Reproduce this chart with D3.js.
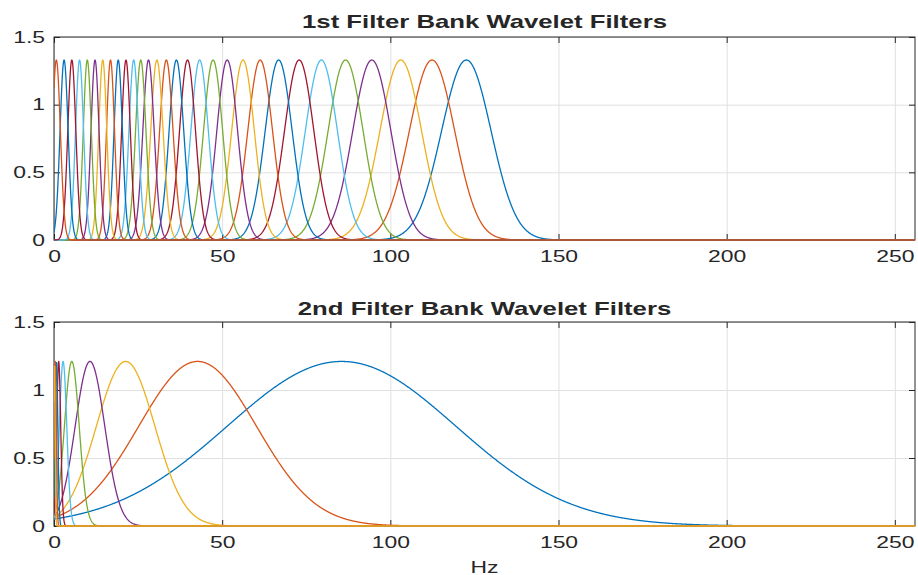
<!DOCTYPE html>
<html>
<head>
<meta charset="utf-8">
<script src="https://cdn.jsdelivr.net/npm/d3@7"></script>
<style>
  html, body { margin: 0; padding: 0; background: #ffffff; }
  svg { display: block; }
  text { font-family: "Liberation Sans", Arial, Helvetica, sans-serif; fill: #262626; }
</style>
</head>
<body>
<svg id="chart" width="918" height="575"></svg>
<script>
// ---------------- data ----------------
const titles = ["1st Filter Bank Wavelet Filters", "2nd Filter Bank Wavelet Filters"];
const xLabel = "Hz";
const xTicks = [0, 50, 100, 150, 200, 250];
const yTicks = [0, 0.5, 1, 1.5];
const xMax = 256;
const yMax = 1.5;

// 1st filter bank: centre frequency (Hz) and Gaussian width (Hz) of each filter
const bank1Centers = [122.6, 112.4, 103.1, 94.5, 86.7, 79.5, 72.9, 66.8, 61.3, 56.2,
                      51.5, 47.3, 43.3, 39.7, 36.4, 33.4, 30.6, 28.1, 25.8, 23.7,
                      21.4, 19.1, 16.8, 14.5, 12.2, 9.9, 7.6, 5.3, 3.0, 0.7];
const bank1Widths  = [7.36, 6.74, 6.19, 5.67, 5.20, 4.77, 4.37, 4.01, 3.68, 3.37,
                      3.09, 2.84, 2.60, 2.38, 2.18, 2.00, 1.84, 1.69, 1.55, 1.42,
                      1.30, 1.25, 1.20, 1.20, 1.20, 1.20, 1.20, 1.20, 1.20, 1.20];
const bank1Peak = 1.33;

// 2nd filter bank
const bank2Centers = [85.5, 42.7, 21.3, 10.7, 5.3, 2.7, 1.4, 0.75, 0.4, 0.15];
const bank2Widths  = [34.0, 17.5, 8.7, 4.4, 2.2, 1.1, 0.6, 0.4, 0.3, 0.2];
const bank2Peak = 1.21;

const colors = ["#0072BD", "#D95319", "#EDB120", "#7E2F8E", "#77AC30", "#4DBEEE", "#A2142F"];

// ---------------- layout ----------------
const svg = d3.select("#chart");
const left = 54, right = 915;
const panels = [
  { top: 37,  bottom: 240, centers: bank1Centers, widths: bank1Widths, peak: bank1Peak, title: titles[0], titleY: 28 },
  { top: 322, bottom: 526, centers: bank2Centers, widths: bank2Widths, peak: bank2Peak, title: titles[1], titleY: 315 }
];
const SX = 1.43;          // horizontal stretch of the original's text
const tickFont = 16, titleFont = 18;
const axisColor = "#262626", gridColor = "#e0e0e0";

const x = d3.scaleLinear().domain([0, xMax]).range([left, right]);

// frequency grid for the filter responses
const freqs = d3.range(0, xMax + 1e-9, 0.1);

panels.forEach((p, pi) => {
  const y = d3.scaleLinear().domain([0, yMax]).range([p.bottom, p.top]);
  const h = p.bottom - p.top;
  const g = svg.append("g");

  const clipId = "clip" + pi;
  svg.append("clipPath").attr("id", clipId)
    .append("rect").attr("x", left).attr("y", p.top).attr("width", right - left + 0.5).attr("height", h + 1);

  // grid
  const gx = g.append("g").attr("transform", `translate(0,${p.bottom})`)
    .call(d3.axisBottom(x).tickValues(xTicks).tickSize(-h).tickFormat(""));
  gx.select(".domain").remove();
  gx.selectAll("line").attr("stroke", gridColor).attr("stroke-width", 1);
  const gy = g.append("g").attr("transform", `translate(${left},0)`)
    .call(d3.axisLeft(y).tickValues(yTicks).tickSize(-(right - left)).tickFormat(""));
  gy.select(".domain").remove();
  gy.selectAll("line").attr("stroke", gridColor).attr("stroke-width", 1);

  // box
  g.append("rect").attr("x", left).attr("y", p.top)
    .attr("width", right - left).attr("height", h)
    .attr("fill", "none").attr("stroke", axisColor).attr("stroke-width", 1);

  // ticks on all four sides (pointing inward)
  const tb = g.append("g").attr("transform", `translate(0,${p.bottom})`)
    .call(d3.axisBottom(x).tickValues(xTicks).tickSize(-6).tickPadding(11).tickFormat(d3.format("d")));
  const tt = g.append("g").attr("transform", `translate(0,${p.top})`)
    .call(d3.axisTop(x).tickValues(xTicks).tickSize(-6).tickFormat(""));
  const tl = g.append("g").attr("transform", `translate(${left},0)`)
    .call(d3.axisLeft(y).tickValues(yTicks).tickSize(-6).tickPadding(9).tickFormat(d => String(d)));
  const tr = g.append("g").attr("transform", `translate(${right},0)`)
    .call(d3.axisRight(y).tickValues(yTicks).tickSize(-6).tickFormat(""));
  [tb, tt, tl, tr].forEach(a => {
    a.select(".domain").remove();
    a.selectAll("line").attr("stroke", axisColor).attr("stroke-width", 1);
  });
  tb.selectAll("text").attr("font-size", tickFont).attr("font-family", null)
    .attr("transform", `scale(${SX},1)`);
  tl.selectAll("text").attr("font-size", tickFont).attr("font-family", null)
    .attr("x", -9 / SX).attr("transform", `scale(${SX},1)`);

  // filter curves (drawn over the box like the original)
  const line = d3.line().x(d => x(d[0])).y(d => y(d[1]));
  const curves = g.append("g").attr("clip-path", `url(#${clipId})`);
  p.centers.forEach((c, i) => {
    const s = p.widths[i];
    const pts = freqs.map(f => [f, p.peak * Math.exp(-((f - c) * (f - c)) / (2 * s * s))]);
    curves.append("path")
      .attr("d", line(pts))
      .attr("fill", "none")
      .attr("stroke", colors[i % colors.length])
      .attr("stroke-width", 1.3)
      .attr("stroke-linejoin", "round");
  });

  // title
  g.append("text")
    .attr("transform", `translate(${(left + right) / 2},${p.titleY}) scale(${SX},1)`)
    .attr("text-anchor", "middle")
    .attr("font-size", titleFont).attr("font-weight", "bold")
    .attr("fill", "#000000")
    .text(p.title);
});

// x-axis label
svg.append("text")
  .attr("transform", `translate(${(left + right) / 2},573) scale(${SX},1)`)
  .attr("text-anchor", "middle")
  .attr("font-size", tickFont)
  .text(xLabel);
</script>
</body>
</html>
